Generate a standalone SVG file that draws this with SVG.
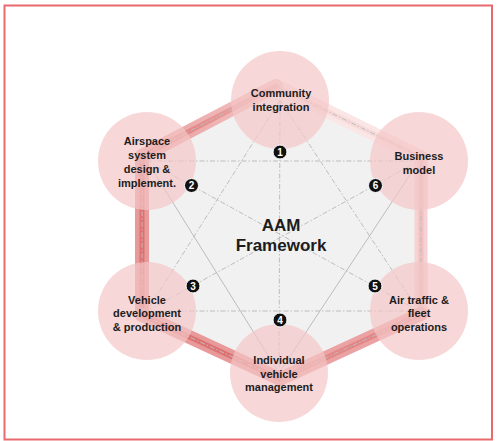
<svg xmlns="http://www.w3.org/2000/svg" width="500" height="441" viewBox="0 0 500 441">
<style>
.dd{stroke:#bdbdbd;stroke-width:1;stroke-dasharray:5 2 1.5 2;fill:none}
.sl{stroke:#b5b5b5;stroke-width:0.9;fill:none}
.band{fill:none;stroke-linecap:round}
.node{fill:#f3c6c6;fill-opacity:0.7}
.lbl{font-family:"Liberation Sans",Arial,sans-serif;font-weight:bold;font-size:11px;fill:#1c1c1c;text-anchor:middle}
.title{font-family:"Liberation Sans",Arial,sans-serif;font-weight:bold;font-size:17px;fill:#1c1c1c;text-anchor:middle}
.bdg{fill:#111;stroke:#fff;stroke-width:1}
.bnum{font-family:"Liberation Sans",Arial,sans-serif;font-weight:bold;font-size:10px;fill:#fff;text-anchor:middle}
</style>
<defs>
<linearGradient id="gOut" gradientUnits="userSpaceOnUse" x1="276" y1="86" x2="142" y2="156">
<stop offset="0" stop-color="#f4c8c8"/><stop offset="1" stop-color="#e89a9a"/>
</linearGradient>
<linearGradient id="gIn" gradientUnits="userSpaceOnUse" x1="276" y1="86" x2="142" y2="156">
<stop offset="0" stop-color="#efb0b0"/><stop offset="1" stop-color="#de7272"/>
</linearGradient>
</defs>
<rect x="0" y="0" width="500" height="441" fill="#ffffff"/>
<rect x="4.5" y="5.5" width="487.5" height="434" fill="none" stroke="#e96a6e" stroke-width="2"/>
<polygon points="276,86 142,156 142,315 280,379 421,314 421,157" fill="#f1f1f1"/>
<g id="connectors">
<line class="dd" x1="280" y1="100" x2="279" y2="373"/>
<line class="dd" x1="147" y1="161" x2="419" y2="161"/>
<line class="dd" x1="147" y1="311" x2="419" y2="311"/>
<line class="dd" x1="280" y1="100" x2="147" y2="311"/>
<line class="dd" x1="280" y1="100" x2="419" y2="311"/>
<line class="dd" x1="147" y1="161" x2="419" y2="311"/>
<line class="dd" x1="419" y1="161" x2="147" y2="311"/>
<line class="sl" x1="147" y1="161" x2="279" y2="373"/>
<line class="sl" x1="419" y1="161" x2="279" y2="373"/>
<line class="band" x1="276" y1="86" x2="421" y2="157" stroke="#fbe6e6" stroke-width="14"/>
<line class="band" x1="276" y1="86" x2="421" y2="157" stroke="#f8dada" stroke-width="5"/>
<line class="band" x1="421" y1="157" x2="421" y2="314" stroke="#f7d2d2" stroke-width="13"/>
<line class="band" x1="421" y1="157" x2="421" y2="314" stroke="#f2c0c0" stroke-width="5"/>
<line class="band" x1="421" y1="314" x2="280" y2="379" stroke="#eaa2a2" stroke-width="14"/>
<line class="band" x1="421" y1="314" x2="280" y2="379" stroke="#e48686" stroke-width="5"/>
<line class="band" x1="276" y1="86" x2="142" y2="156" stroke="url(#gOut)" stroke-width="14"/>
<line class="band" x1="276" y1="86" x2="142" y2="156" stroke="url(#gIn)" stroke-width="5"/>
<line class="band" x1="142" y1="156" x2="142" y2="315" stroke="#e89a9a" stroke-width="14"/>
<line class="band" x1="142" y1="156" x2="142" y2="315" stroke="#de7272" stroke-width="5"/>
<line class="band" x1="142" y1="315" x2="280" y2="379" stroke="#e89a9a" stroke-width="14"/>
<line class="band" x1="142" y1="315" x2="280" y2="379" stroke="#de7272" stroke-width="5"/>
<polyline class="dd" points="276,86 421,157 421,314 280,379 142,315 142,156 276,86" stroke="#eec4c4"/>
</g>
<g id="node-community">
<circle class="node" cx="280" cy="100" r="49"/>
<text class="lbl" x="281" y="97">Community</text>
<text class="lbl" x="281" y="111">integration</text>
<circle class="bdg" cx="280" cy="152" r="7"/>
<text class="bnum" x="280" y="155.6">1</text>
</g>
<g id="node-airspace">
<circle class="node" cx="147" cy="161" r="49"/>
<text class="lbl" x="147" y="145">Airspace</text>
<text class="lbl" x="147" y="159">system</text>
<text class="lbl" x="147" y="172.5">design &amp;</text>
<text class="lbl" x="147" y="186.5">implement.</text>
<circle class="bdg" cx="191.5" cy="185.5" r="7"/>
<text class="bnum" x="191.5" y="189.1">2</text>
</g>
<g id="node-vehicle-dev">
<circle class="node" cx="147" cy="311" r="49"/>
<text class="lbl" x="147" y="303.5">Vehicle</text>
<text class="lbl" x="147" y="317">development</text>
<text class="lbl" x="147" y="330.5">&amp; production</text>
<circle class="bdg" cx="193" cy="286" r="7"/>
<text class="bnum" x="193" y="289.6">3</text>
</g>
<g id="node-individual">
<circle class="node" cx="279" cy="373" r="49"/>
<text class="lbl" x="279" y="364">Individual</text>
<text class="lbl" x="279" y="377.5">vehicle</text>
<text class="lbl" x="279" y="391">management</text>
<circle class="bdg" cx="280" cy="320" r="7"/>
<text class="bnum" x="280" y="323.6">4</text>
</g>
<g id="node-air-traffic">
<circle class="node" cx="419" cy="311" r="49"/>
<text class="lbl" x="419" y="303.5">Air traffic &amp;</text>
<text class="lbl" x="419" y="317">fleet</text>
<text class="lbl" x="419" y="330.5">operations</text>
<circle class="bdg" cx="375" cy="286" r="7"/>
<text class="bnum" x="375" y="289.6">5</text>
</g>
<g id="node-business">
<circle class="node" cx="419" cy="161" r="49"/>
<text class="lbl" x="419" y="160">Business</text>
<text class="lbl" x="419" y="173.5">model</text>
<circle class="bdg" cx="375.5" cy="185.5" r="7"/>
<text class="bnum" x="375.5" y="189.1">6</text>
</g>
<g id="title">
<text class="title" x="281" y="231">AAM</text>
<text class="title" x="281" y="251">Framework</text>
</g>
</svg>
